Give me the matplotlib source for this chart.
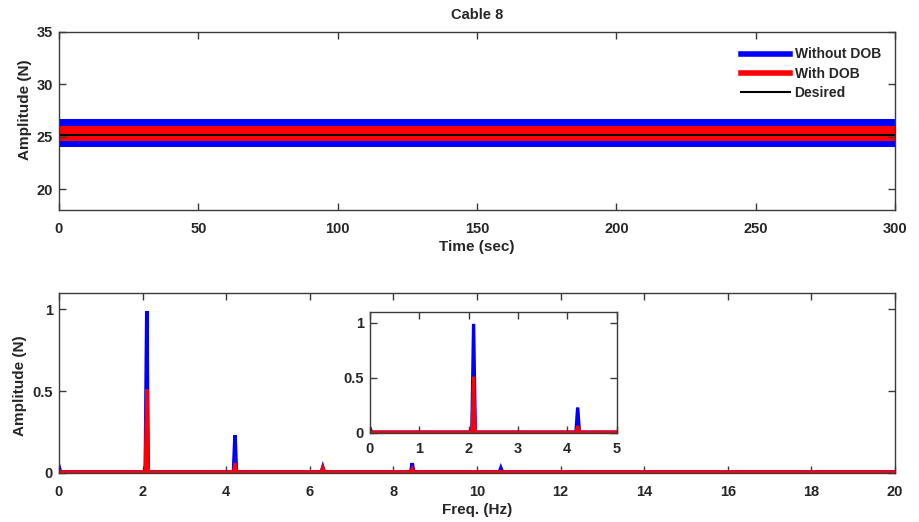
import matplotlib
matplotlib.use("Agg")
import matplotlib.pyplot as plt
from matplotlib.lines import Line2D

# ---------------- data ----------------
time_s = [0, 300]
desired = [25.2, 25.2]
without_lo = [24.0, 24.0]
without_hi = [26.7, 26.7]
with_lo = [24.55, 24.55]
with_hi = [25.98, 25.98]

peak_freq = [0.0, 2.10, 4.21, 6.31, 8.45, 10.57]
without_peak = [0.04, 0.99, 0.23, 0.035, 0.06, 0.03]
with_peak = [0.012, 0.51, 0.06, 0.03, 0.025, 0.008]
noise_floor = 0.006
freq_max = 20

time_ticks = [0, 50, 100, 150, 200, 250, 300]
amp_ticks = [20, 25, 30, 35]
freq_ticks = [0, 2, 4, 6, 8, 10, 12, 14, 16, 18, 20]
spec_ticks = [0, 0.5, 1]
spec_ticklabels = ["0", "0.5", "1"]
inset_xticks = [0, 1, 2, 3, 4, 5]

BLUE = "#0000ff"
RED = "#ff0000"
TXT = "#262626"
SPINE = "#3a3a3a"

plt.rcParams["font.family"] = ["Liberation Sans", "DejaVu Sans"]
plt.rcParams["font.weight"] = "bold"
plt.rcParams["font.size"] = 10


def spectrum(peaks, floor, hw=0.035):
    xs, ys = [], []
    for f, a in zip(peak_freq, peaks):
        if f <= 0:
            xs += [f, f + hw]
            ys += [a, floor]
        else:
            xs += [f - hw, f, f + hw]
            ys += [floor, a, floor]
    xs.append(freq_max)
    ys.append(floor)
    return xs, ys


def style(ax, xpad=8.5, ypad=4.5, size=10.5):
    for s in ax.spines.values():
        s.set_color(SPINE)
        s.set_linewidth(1.0)
    ax.tick_params(direction="in", top=True, right=True, colors=SPINE,
                   labelcolor=TXT, length=5, width=1.0, labelsize=size)
    ax.tick_params(axis="x", pad=xpad)
    ax.tick_params(axis="y", pad=ypad)
    for lab in ax.get_xticklabels() + ax.get_yticklabels():
        lab.set_fontweight("bold")


fig = plt.figure(figsize=(9.19, 5.22), dpi=100)

# ---- top: time series ----
ax1 = fig.add_axes([0.0642, 0.5977, 0.9097, 0.341])
ax1.fill_between(time_s, without_lo, without_hi, color=BLUE, lw=0)
ax1.fill_between(time_s, with_lo, with_hi, color=RED, lw=0)
ax1.plot(time_s, desired, color="black", lw=1.5)
ax1.set_xlim(0, 300)
ax1.set_ylim(18, 35)
ax1.set_xticks(time_ticks)
ax1.set_yticks(amp_ticks)
ax1.set_title("Cable 8", fontsize=10.5, fontweight="bold", color=TXT, pad=9)
ax1.set_xlabel("Time (sec)", fontsize=11, fontweight="bold", color=TXT, labelpad=3)
ax1.set_ylabel("Amplitude (N)", fontsize=11, fontweight="bold", color=TXT)
ax1.yaxis.set_label_coords(-0.0323, 0.562)
style(ax1)
handles = [Line2D([], [], color=BLUE, lw=4), Line2D([], [], color=RED, lw=4),
           Line2D([], [], color="black", lw=1.5)]
leg = ax1.legend(handles, ["Without DOB", "With DOB", "Desired"], loc="upper right",
                 bbox_to_anchor=(0.993, 0.96), frameon=False, handlelength=3.5,
                 handletextpad=0.35, labelspacing=0.38, borderaxespad=0.2,
                 prop={"weight": "bold", "size": 10})
for t in leg.get_texts():
    t.set_color(TXT)

# ---- bottom: spectrum ----
ax2 = fig.add_axes([0.0642, 0.0939, 0.9097, 0.3448])
bx, by = spectrum(without_peak, noise_floor)
rx, ry = spectrum(with_peak, noise_floor)
ax2.plot(bx, by, color=BLUE, lw=2.6, solid_joinstyle="miter")
ax2.plot(rx, ry, color=RED, lw=2.4, solid_joinstyle="miter")
ax2.set_xlim(0, 20)
ax2.set_ylim(0, 1.1)
ax2.set_xticks(freq_ticks)
ax2.set_yticks(spec_ticks)
ax2.set_yticklabels(spec_ticklabels)
ax2.set_xlabel("Freq. (Hz)", fontsize=11, fontweight="bold", color=TXT, labelpad=3)
ax2.set_ylabel("Amplitude (N)", fontsize=11, fontweight="bold", color=TXT)
ax2.yaxis.set_label_coords(-0.0383, 0.483)
style(ax2)

# ---- inset ----
ax3 = fig.add_axes([0.4026, 0.171, 0.2684, 0.2318])
ax3.plot(bx, by, color=BLUE, lw=2.4, solid_joinstyle="miter")
ax3.plot(rx, ry, color=RED, lw=2.2, solid_joinstyle="miter")
ax3.set_xlim(0, 5)
ax3.set_ylim(0, 1.1)
ax3.set_xticks(inset_xticks)
ax3.set_yticks(spec_ticks)
ax3.set_yticklabels(spec_ticklabels)
style(ax3, xpad=7, ypad=4.5)

fig.savefig("out.png", dpi=100)
